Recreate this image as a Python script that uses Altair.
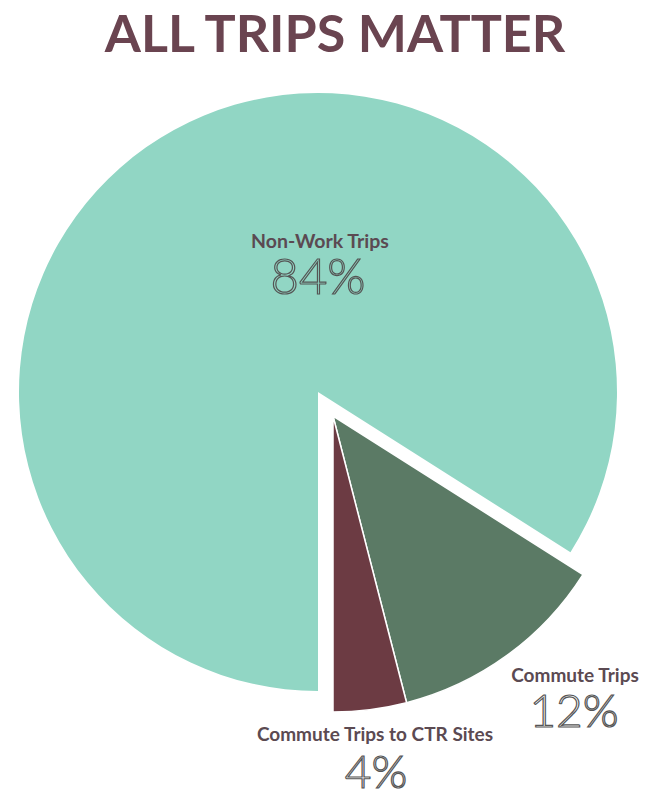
import altair as alt
import pandas as pd

categories = ["Non-Work Trips", "Commute Trips", "Commute Trips to CTR Sites"]
shares = [84, 12, 4]
pct_labels = ["84%", "12%", "4%"]
colors = ["#91d6c4", "#5b7a65", "#6c3b43"]
title_text = "ALL TRIPS MATTER"

df = pd.DataFrame({"category": categories, "share": shares, "pct": pct_labels,
                   "order": list(range(len(categories)))})

base = alt.Chart(df).transform_window(
    end="sum(share)", sort=[alt.SortField("order")], frame=[None, 0]
).transform_calculate(start="datum.end - datum.share")

theta_scale = alt.Scale(domain=[0, 100], range=[3.14159265, 3 * 3.14159265])
color_scale = alt.Scale(domain=categories, range=colors)

big = base.transform_filter(alt.datum.category == categories[0]).mark_arc(radius=299).encode(
    theta=alt.Theta("start:Q", scale=theta_scale),
    theta2="end:Q",
    color=alt.Color("category:N", scale=color_scale, legend=None),
    x=alt.value(310), y=alt.value(384),
)

small = base.transform_filter(alt.datum.category != categories[0]).mark_arc(
    radius=296, stroke="white", strokeWidth=1.5
).encode(
    theta=alt.Theta("start:Q", scale=theta_scale),
    theta2="end:Q",
    color=alt.Color("category:N", scale=color_scale, legend=None),
    x=alt.value(325), y=alt.value(408),
)

def name_label(cat, x, y, size):
    return alt.Chart(df).transform_filter(alt.datum.category == cat).mark_text(
        font="Lato", fontWeight="bold", fontSize=size, color="#5b4a52",
        align="center", baseline="middle"
    ).encode(text="category:N", x=alt.value(x), y=alt.value(y))

def pct_label(cat, x, y, size, fill):
    return alt.Chart(df).transform_filter(alt.datum.category == cat).mark_text(
        font="Lato", fontWeight=300, fontSize=size, fill=fill, stroke="#555555",
        strokeWidth=1.2, align="center", baseline="middle"
    ).encode(text="pct:N", x=alt.value(x), y=alt.value(y))

title = alt.Chart(pd.DataFrame({"t": [title_text]})).mark_text(
    font="Lato", fontWeight="bold", fontSize=52, color="#6a4450",
    align="center", baseline="middle"
).encode(text="t:N", x=alt.value(327), y=alt.value(28))

chart = alt.layer(
    big, small,
    name_label(categories[0], 312, 234, 19.5),
    pct_label(categories[0], 310, 271, 49, "#91d6c4"),
    name_label(categories[1], 567, 668, 19),
    pct_label(categories[1], 566, 705, 46, "white"),
    name_label(categories[2], 367, 727, 19),
    pct_label(categories[2], 368, 766, 46, "white"),
    title,
).properties(
    width=638, height=784, padding=0, autosize="none", background="white"
).configure_view(stroke=None)

chart.save("out.html", embed_options={"renderer": "svg", "actions": False})
